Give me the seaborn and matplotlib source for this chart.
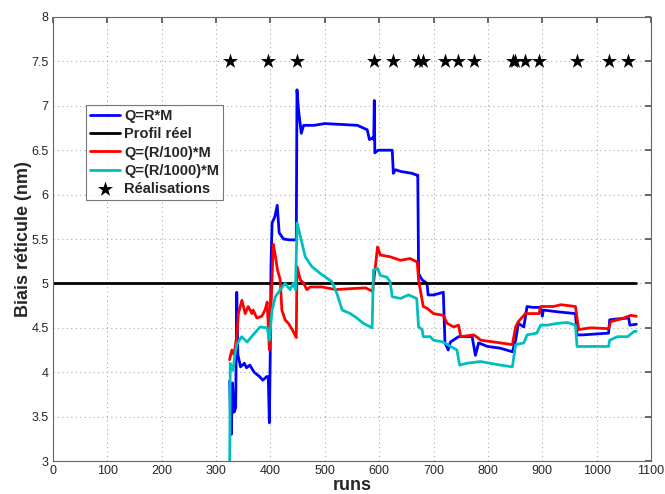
import numpy as np
import pandas as pd
import matplotlib
matplotlib.use("Agg")
import matplotlib.pyplot as plt
import seaborn as sns

# ---- data ----
blue_x = [325, 326, 328, 330, 333, 336, 338, 340, 345, 352, 356, 362, 370, 380, 386, 393, 396, 398, 399.6,
          401, 403, 408, 412.5, 416, 424, 435, 445.7, 447.5, 448.8, 451.7, 456.7, 461, 480, 500, 530, 560,
          578, 582, 588, 590, 591, 592, 598, 620, 624, 626, 630, 640, 660, 669, 671, 672.5, 679, 688, 690,
          700, 718, 721, 727, 731, 746, 771, 777, 783, 799, 823, 845, 851, 856, 866, 872, 882, 897, 900,
          902, 928, 961, 964, 974, 1022, 1024, 1038, 1059, 1061, 1073]
blue_y = [3.9, 3.6, 3.3, 3.88, 3.55, 3.6, 4.9, 4.2, 4.06, 4.1, 4.05, 4.08, 4.0, 3.95, 3.91, 3.95, 3.95, 3.43, 4.2,
          5.2, 5.68, 5.75, 5.88, 5.57, 5.50, 5.49, 5.49, 5.49, 7.18, 6.95, 6.69, 6.78, 6.78, 6.80, 6.79, 6.78,
          6.73, 6.62, 6.64, 6.62, 7.06, 6.47, 6.50, 6.50, 6.50, 6.24, 6.28, 6.26, 6.24, 6.22, 6.22, 5.11, 5.04, 5.0, 4.87,
          4.87, 4.90, 4.33, 4.25, 4.34, 4.40, 4.40, 4.19, 4.33, 4.29, 4.27, 4.23, 4.36, 4.55, 4.51, 4.74, 4.73, 4.73, 4.63,
          4.70, 4.68, 4.66, 4.42, 4.42, 4.44, 4.59, 4.60, 4.61, 4.53, 4.54]

red_x = [324.7, 329, 333, 338, 341, 347.5, 353.6, 359, 366, 368, 375, 384, 390, 394, 398, 401, 403, 405, 408,
         413, 418, 421, 427, 433, 440, 447.5, 448.8, 455, 461, 467, 473, 495, 520, 545, 575, 588, 593, 597,
         602, 620, 639, 657, 670, 672.5, 679, 681, 688, 700, 718, 725, 737, 746, 750, 774, 781, 787, 823,
         845, 851, 856, 869, 894, 897, 921, 934, 961, 967, 989, 1022, 1026, 1045, 1063, 1073]
red_y = [4.14, 4.25, 4.20, 4.40, 4.66, 4.81, 4.66, 4.74, 4.66, 4.70, 4.61, 4.63, 4.70, 4.79, 4.25, 4.74, 5.06, 5.44, 5.35,
         5.15, 5.04, 4.70, 4.59, 4.55, 4.48, 4.39, 5.19, 5.04, 5.0, 4.93, 4.96, 4.96, 4.93, 4.94, 4.95, 4.91, 5.19, 5.41,
         5.32, 5.30, 5.26, 5.28, 5.24, 5.04, 4.81, 4.74, 4.72, 4.66, 4.64, 4.55, 4.51, 4.53, 4.40, 4.42, 4.39, 4.36, 4.33,
         4.31, 4.51, 4.57, 4.66, 4.66, 4.74, 4.74, 4.76, 4.74, 4.48, 4.50, 4.49, 4.57, 4.60, 4.64, 4.63]

cyan_x = [324.7, 326, 331, 335, 338, 347, 357, 368, 381, 394, 398, 403, 409, 418, 427, 436, 442, 446, 449,
          455, 464, 476, 492, 513, 522, 532, 547, 559, 571, 587, 589.5, 597, 602, 614, 620, 624, 639, 654,
          669, 672.5, 679, 681, 694, 700, 718, 731, 743, 748, 761, 786, 823, 845, 851, 866, 872, 890, 897,
          909, 928, 946, 961, 964, 1022, 1024, 1038, 1057, 1069, 1073]
cyan_y = [2.5, 4.10, 4.02, 4.21, 4.31, 4.40, 4.34, 4.42, 4.51, 4.50, 4.36, 4.70, 4.85, 4.93, 5.0, 4.93, 5.0, 4.93, 5.68,
          5.53, 5.30, 5.19, 5.11, 5.02, 4.89, 4.70, 4.66, 4.61, 4.55, 4.50, 5.15, 5.17, 5.09, 5.07, 5.02, 4.85, 4.83, 4.87,
          4.83, 4.51, 4.48, 4.40, 4.40, 4.36, 4.34, 4.29, 4.25, 4.08, 4.10, 4.12, 4.08, 4.06, 4.31, 4.33, 4.42, 4.44, 4.53,
          4.53, 4.55, 4.56, 4.53, 4.29, 4.29, 4.36, 4.40, 4.40, 4.46, 4.46]

real_x = [0, 1073]
real_y = [5, 5]

stars_x = [325, 395, 448, 590, 625, 671, 681, 721, 745, 775, 846, 850, 869, 894, 963, 1023, 1057]
stars_y = [7.5] * len(stars_x)

xticks = list(range(0, 1101, 100))
yticks = [3, 3.5, 4, 4.5, 5, 5.5, 6, 6.5, 7, 7.5, 8]

# ---- style ----
sns.set_theme(style="white")
plt.rcParams['font.family'] = ['Liberation Sans', 'DejaVu Sans']

fig = plt.figure(figsize=(6.65, 4.94), dpi=100)
ax = fig.add_axes([53/665, 33/494, 598/665, 444/494])

lw = 2.0
sns.lineplot(x=blue_x, y=blue_y, ax=ax, color='#0000ff', lw=lw, sort=False, estimator=None, label='Q=R*M')
sns.lineplot(x=real_x, y=real_y, ax=ax, color='black', lw=lw, sort=False, estimator=None, label='Profil réel')
sns.lineplot(x=red_x, y=red_y, ax=ax, color='#ff0000', lw=lw, sort=False, estimator=None, label='Q=(R/100)*M')
sns.lineplot(x=cyan_x, y=cyan_y, ax=ax, color='#00bfbf', lw=lw, sort=False, estimator=None, label='Q=(R/1000)*M')
sns.scatterplot(x=stars_x, y=stars_y, ax=ax, marker='*', s=130, color='black', edgecolor='black',
                linewidth=0, label='Réalisations', zorder=5)

ax.set_xlim(0, 1100)
ax.set_ylim(3, 8)
ax.set_xticks(xticks)
ax.set_yticks(yticks)
ax.set_xticklabels([str(t) for t in xticks], fontsize=9)
ax.set_yticklabels([('%g' % t) for t in yticks], fontsize=9)
ax.tick_params(direction='in', length=4, color='#555555', top=True, right=True, pad=3)
ax.grid(True, linestyle=(0, (1, 3)), color='#aaaaaa', linewidth=0.8)
for sp in ax.spines.values():
    sp.set_color('#666666')
    sp.set_linewidth(0.8)

ax.set_xlabel('runs', fontsize=13, fontweight='bold', labelpad=0)
ax.set_ylabel('Biais réticule (nm)', fontsize=13, fontweight='bold', labelpad=0)

leg = ax.legend(loc='upper left', bbox_to_anchor=(33/598, (461-105)/444), prop={'weight': 'bold', 'size': 10.5},
                frameon=True, fancybox=False, edgecolor='#555555', handlelength=2.0, handletextpad=0.3,
                borderpad=0.3, labelspacing=0.28, borderaxespad=0)
leg.get_frame().set_linewidth(0.8)

fig.savefig('out.png', dpi=100)
